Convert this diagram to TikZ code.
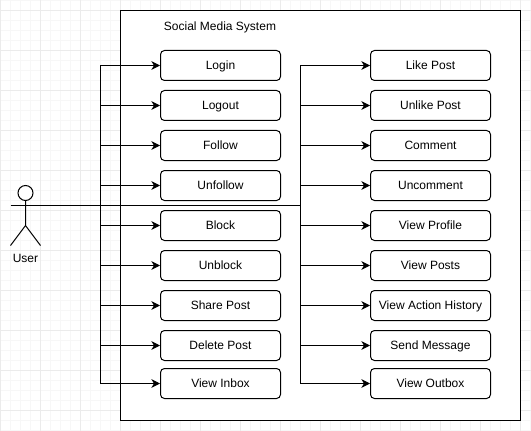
\documentclass[tikz,border=0pt]{standalone}
\usepackage{fontspec}
\setmainfont{Liberation Sans}
\usetikzlibrary{arrows.meta}
\tikzset{
  x=0.75pt,y=-0.75pt,
  labelfont/.style={font=\fontsize{9pt}{11pt}\selectfont,text=black,text height=7.5pt,text depth=0.9pt},
  usecase/.style={draw=black,fill=white,rounded corners=3pt,line width=0.75pt,minimum width=90pt,minimum height=22.5pt,inner sep=0pt,labelfont},
  link/.style={draw=black,line width=0.75pt,-{Stealth[length=6.5pt,width=6.5pt,inset=2pt]}},
  trunk/.style={draw=black,line width=0.75pt},
  gridminor/.style={draw=black!3,line width=0.75pt},
  gridmajor/.style={draw=black!8,line width=0.75pt},
}
\begin{document}
\begin{tikzpicture}
\useasboundingbox (0,0) rectangle (531,431);
\fill[white] (0,0) rectangle (531,431);
\foreach \i in {0,10,...,530} \draw[gridminor] (\i+0.5,0) -- (\i+0.5,431);
\foreach \j in {0,10,...,430} \draw[gridminor] (0,\j+0.5) -- (531,\j+0.5);
\foreach \i in {0,40,...,520} \draw[gridmajor] (\i+0.5,0) -- (\i+0.5,431);
\foreach \j in {10,50,...,410} \draw[gridmajor] (0,\j+0.5) -- (531,\j+0.5);
\node[draw=black,fill=white,line width=0.75pt,minimum width=300pt,minimum height=307.5pt,inner sep=0pt] (sys) at (320.5,215.5) {};
\node[labelfont] (title) at (220,26) {Social Media System};
\foreach \n/\t/\y in {a/Login/65.5,b/Logout/105.5,c/Follow/145.5,d/Unfollow/185.5,e/Block/225.5,f/Unblock/265.5,g/Share Post/305.5,h/Delete Post/345.5,i/View Inbox/383.5}
  \node[usecase] (\n) at (220.5,\y) {\t};
\foreach \n/\t/\y in {p/Like Post/65.5,q/Unlike Post/105.5,r/Comment/145.5,s/Uncomment/185.5,t/View Profile/225.5,u/View Posts/265.5,v/View Action History/305.5,w/Send Message/345.5,z/View Outbox/383.5}
  \node[usecase] (\n) at (430.5,\y) {\t};
% actor
\node[draw=black,fill=white,circle,line width=0.75pt,minimum size=11.25pt,inner sep=0pt] (head) at (25.5,193) {};
\coordinate (hip) at (25.5,225.5);
\coordinate (armL) at (10.5,205.5);
\coordinate (legL) at (10.5,245.5);
\coordinate (legR) at (40.5,245.5);
\coordinate (hubR) at (300.5,205.5);
\coordinate (hubL) at (100.5,205.5);
\draw[trunk] (head.south) -- (hip) (legL) -- (hip) -- (legR);
\draw[trunk] (armL) -- (hubR);
\node[labelfont] (user) at (25.5,258.5) {User};
% connectors
\foreach \n in {a,b,c,d,e,f,g,h,i}
  \draw[link] (hubL) -- (hubL |- \n.west) -- (\n.west);
\foreach \n in {p,q,r,s,t,u,v,w,z}
  \draw[link] (hubR) -- (hubR |- \n.west) -- (\n.west);
\end{tikzpicture}
\end{document}
